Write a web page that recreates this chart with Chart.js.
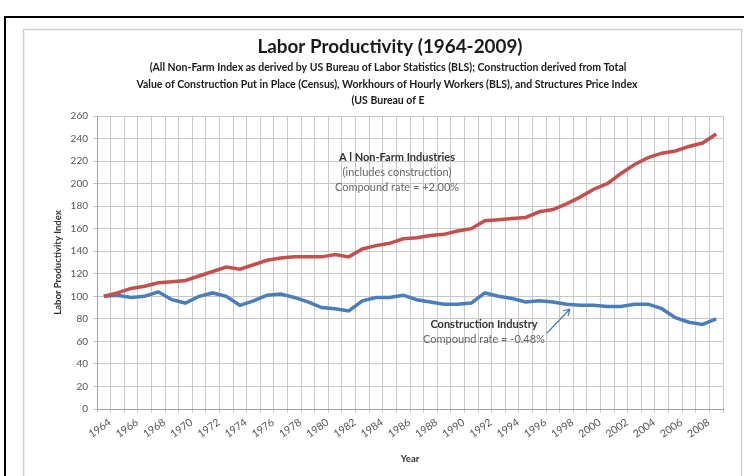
<!doctype html>
<html>
<head>
<title>Labor Productivity</title>
<script src="https://cdn.jsdelivr.net/npm/chart.js@4.4.0/dist/chart.umd.min.js"></script>
<style>
body { margin: 0; background: #fff; }
#wrap { width: 744px; height: 476px; }
</style>
</head>
<body>
<div id="wrap"><canvas id="chart"></canvas></div>
<script>
var years = [];
for (var y = 1964; y <= 2009; y++) years.push(String(y));

// All Non-Farm Industries index (1964 = 100)
var nonFarm = [100, 103, 107, 109, 112, 113, 114, 118, 122, 126,
               124, 128, 132, 134, 135, 135, 135, 137, 135, 142,
               145, 147, 151, 152, 154, 155, 158, 160, 167, 168,
               169, 170, 175, 177, 182, 188, 195, 200, 209, 217,
               223, 227, 229, 233, 236, 244];

// Construction Industry index (1964 = 100)
var construction = [100, 101, 99, 100, 104, 97, 94, 100, 103, 100,
                    92, 96, 101, 102, 99, 95, 90, 89, 87, 96,
                    99, 99, 101, 97, 95, 93, 93, 94, 103, 100,
                    98, 95, 96, 95, 93, 92, 92, 91, 91, 93,
                    93, 89, 81, 77, 75, 80];

var titleText = 'Labor Productivity (1964-2009)';
var subLines = [
    '(All Non-Farm Index as derived by US Bureau of Labor Statistics (BLS); Construction derived from Total',
    'Value of Construction Put in Place (Census), Workhours of Hourly Workers (BLS), and Structures Price Index',
    '(US Bureau of E'
];

var FONT = 'Lato, "Open Sans", sans-serif';

function txt(ctx, s, x, y, font, color, w) {
    ctx.font = font;
    ctx.fillStyle = color;
    ctx.textAlign = 'center';
    ctx.textBaseline = 'middle';
    if (w) ctx.fillText(s, x, y, w); else ctx.fillText(s, x, y);
}

var decor = {
    id: 'decor',
    beforeDraw: function(chart) {
        var ctx = chart.ctx;
        ctx.save();
        ctx.fillStyle = '#fff';
        ctx.fillRect(0, 0, chart.width, chart.height);
        // outer black frame
        ctx.strokeStyle = '#000';
        ctx.lineWidth = 2;
        ctx.beginPath();
        ctx.moveTo(5, 480); ctx.lineTo(5, 17); ctx.lineTo(750, 17);
        ctx.stroke();
        // chart area frame
        ctx.strokeStyle = '#d0d0d0';
        ctx.lineWidth = 1.5;
        ctx.strokeRect(23.5, 29.5, 718, 460);
        txt(ctx, titleText, 390, 47, 'bold 19px ' + FONT, '#1a1a1a', 265);
        txt(ctx, subLines[0], 388, 68, 'bold 10.5px ' + FONT, '#1a1a1a', 533);
        txt(ctx, subLines[1], 387, 85, 'bold 10.5px ' + FONT, '#1a1a1a', 557);
        txt(ctx, subLines[2], 388, 101, 'bold 10.5px ' + FONT, '#1a1a1a', 88);
        ctx.restore();
    },
    afterDatasetsDraw: function(chart) {
        var ctx = chart.ctx;
        ctx.save();
        txt(ctx, 'A l Non-Farm Industries', 397, 157, 'bold 11px ' + FONT, '#333', 129);
        txt(ctx, '(includes construction)', 397, 172, '11px ' + FONT, '#666', 118);
        txt(ctx, 'Compound rate = +2.00%', 397, 187, '11px ' + FONT, '#666', 127);
        txt(ctx, 'Construction Industry', 484, 324, 'bold 11px ' + FONT, '#333', 113);
        txt(ctx, 'Compound rate = -0.48%', 484, 339, '11px ' + FONT, '#666', 128);
        // arrow
        ctx.strokeStyle = '#4a7ab5';
        ctx.lineWidth = 1.2;
        ctx.beginPath();
        ctx.moveTo(547, 333); ctx.lineTo(570, 309);
        ctx.moveTo(570, 309); ctx.lineTo(563, 311);
        ctx.moveTo(570, 309); ctx.lineTo(568, 316);
        ctx.stroke();
        ctx.restore();
    }
};

var config = {
    type: 'line',
    data: {
        labels: years,
        datasets: [{
            label: 'All Non-Farm Industries',
            data: nonFarm,
            borderColor: '#c4504d',
            borderWidth: 3.5,
            pointRadius: 0,
            tension: 0
        }, {
            label: 'Construction Industry',
            data: construction,
            borderColor: '#4a7ebb',
            borderWidth: 3.5,
            pointRadius: 0,
            tension: 0
        }]
    },
    options: {
        responsive: true,
        maintainAspectRatio: false,
        animation: false,
        layout: { padding: { left: 0, top: 116, right: 21, bottom: 0 } },
        plugins: {
            legend: { display: false },
            tooltip: { enabled: false }
        },
        scales: {
            x: {
                offset: true,
                grid: { offset: true, color: '#c8c8c8', tickLength: 4, drawTicks: true },
                border: { color: '#a0a0a0' },
                ticks: {
                    autoSkip: false,
                    minRotation: 35,
                    maxRotation: 35,
                    padding: 3,
                    labelOffset: 6,
                    color: '#555',
                    font: { family: FONT, size: 10.5 },
                    callback: function(v, i) { return i % 2 === 0 ? years[i] : ''; }
                },
                title: {
                    display: true,
                    text: 'Year',
                    color: '#333',
                    font: { family: FONT, size: 9.5, weight: 'bold' },
                    padding: { top: 0, bottom: 11 }
                },
                afterFit: function(s) { s.height = 67; }
            },
            y: {
                min: 0,
                max: 260,
                grid: { color: '#c8c8c8', tickLength: 4 },
                border: { color: '#a0a0a0' },
                ticks: {
                    stepSize: 20,
                    padding: 5,
                    color: '#555',
                    font: { family: FONT, size: 10 }
                },
                title: {
                    display: true,
                    text: 'Labor Productivity Index',
                    color: '#333',
                    font: { family: FONT, size: 9.5, weight: 'bold' },
                    padding: { top: 52, bottom: 0 }
                },
                afterFit: function(s) { s.width = 97; }
            }
        }
    },
    plugins: [decor]
};

window.onload = function() {
    var ctx = document.getElementById('chart').getContext('2d');
    window.myChart = new Chart(ctx, config);
};
</script>
</body>
</html>
